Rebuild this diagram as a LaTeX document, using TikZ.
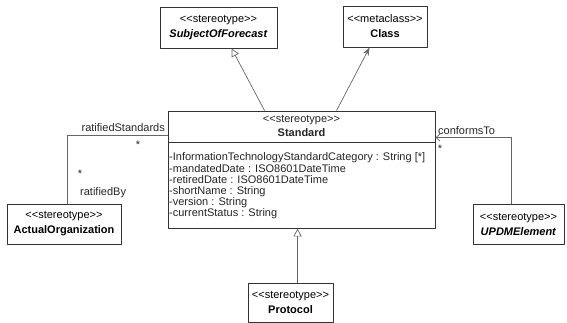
\documentclass[tikz,border=0pt]{standalone}
\usepackage{fontspec}
\setmainfont[Ligatures=TeXOff]{Liberation Sans}
\usetikzlibrary{arrows.meta}
\newcommand\stereo[1]{\textless\kern0pt\textless#1\textgreater\kern0pt\textgreater}

\begin{document}
\begin{tikzpicture}[x=1pt,y=-1pt, font=\fontsize{11}{15}\selectfont, line join=round,
  cls/.style={draw=black!80, line width=0.9pt, fill=white, align=center, inner sep=0pt},
  link/.style={draw=black!60, line width=0.7pt},
  gen/.style={link, -{Triangle[open,length=8pt,width=8pt]}},
  dep/.style={link, -{Stealth[length=8pt,width=6pt]}},
  nav/.style={link, -{Straight Barb[length=4pt,width=7pt]}},
  lbl/.style={inner sep=0pt, text=black!85}]
	\useasboundingbox (0,0) rectangle (567,323);
	% classes
	\node[cls, minimum width=117pt, minimum height=41pt] (sof) at (218.5,27.5) {\stereo{stereotype}\\\textbf{\textit{SubjectOfForecast}}};
	\node[cls, minimum width=84pt, minimum height=41pt] (cls) at (385,26.5) {\stereo{metaclass}\\\textbf{Class}};
	\node[cls, minimum width=267pt, minimum height=117pt] (std) at (301.5,169.5) {};
	\node[lbl, align=center, font=\fontsize{11}{14}\selectfont] (stdname) at (301.5,126) {\stereo{stereotype}\\\textbf{Standard}};
	\draw[draw=black!80, line width=0.9pt] ([yshift=-32pt]std.north west) -- ([yshift=-32pt]std.north east);
	\foreach \txt [count=\i from 0] in {{-InformationTechnologyStandardCategory : String [*]},
	  {-mandatedDate : ISO8601DateTime}, {-retiredDate : ISO8601DateTime},
	  {-shortName : String}, {-version : String}, {-currentStatus : String}}
	  \node[lbl, anchor=base west] (att\i) at (169,161+11*\i) {\txt};
	\node[cls, minimum width=114pt, minimum height=40pt] (ao) at (64,224) {\stereo{stereotype}\\\textbf{ActualOrganization}};
	\node[cls, minimum width=91pt, minimum height=40pt] (upd) at (518.5,224) {\stereo{stereotype}\\\textbf{\textit{UPDMElement}}};
	\node[cls, minimum width=85pt, minimum height=39pt] (prot) at (290.5,302.5) {\stereo{stereotype}\\\textbf{Protocol}};
	% connectors
	\draw[gen] ([xshift=97pt]std.north west) -- ([xshift=72pt]sof.south west);
	\draw[dep] ([xshift=169pt]std.north west) -- ([xshift=27pt]cls.south west);
	\coordinate (pt) at ([xshift=50pt]prot.north west);
	\draw[gen] (pt) -- (pt |- std.south);
	\draw[link] ([xshift=61pt]ao.north west) |- ([yshift=-25pt]std.north west);
	\draw[nav] ([xshift=39pt]upd.north west) |- ([yshift=-27pt]std.north east);
	% role names
	\node[lbl, anchor=base east] (rs) at (165,132) {ratifiedStandards};
	\node[lbl, anchor=base] (rsm) at (138,149) {*};
	\node[lbl, anchor=base] (rbm) at (80,178) {*};
	\node[lbl, anchor=base west] (rb) at (80,196) {ratifiedBy};
	\node[lbl, anchor=base west] (ct) at (438,135) {conformsTo};
	\node[lbl, anchor=base] (ctm) at (440,153) {*};
\end{tikzpicture}
\end{document}
